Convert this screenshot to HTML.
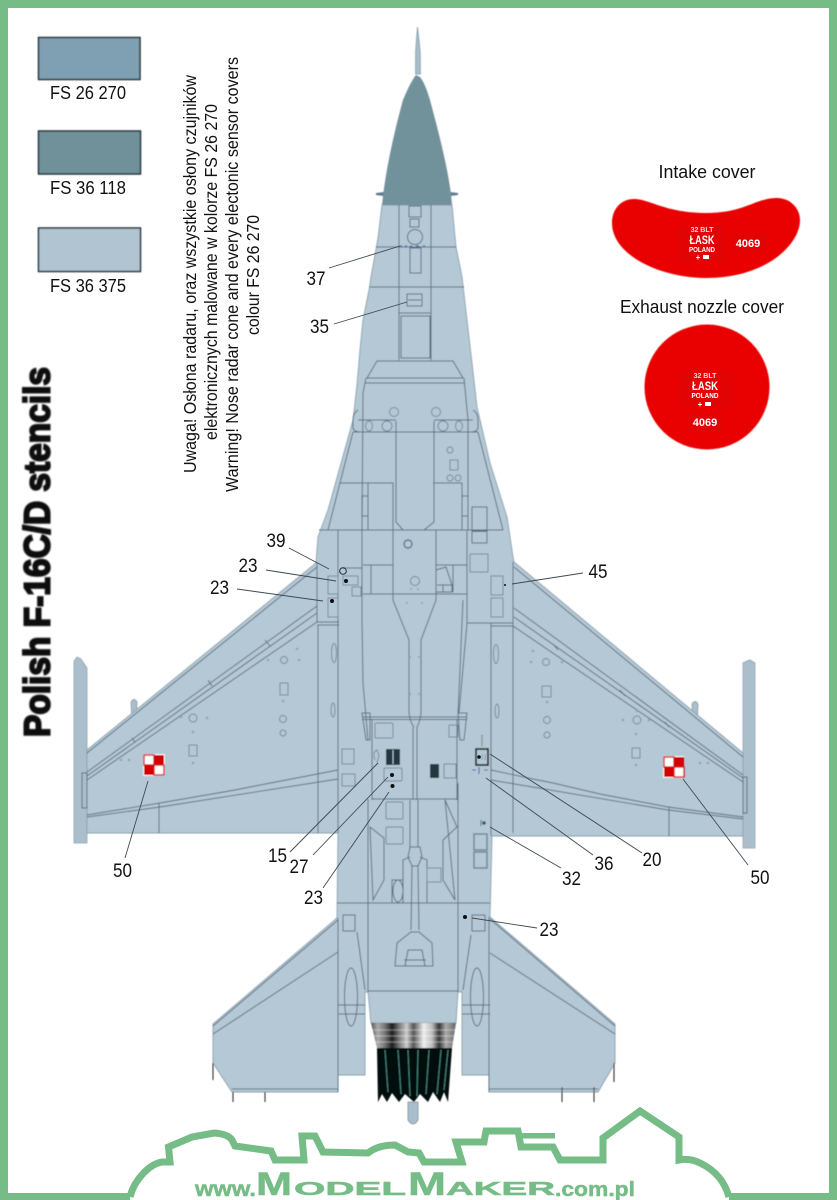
<!DOCTYPE html>
<html><head><meta charset="utf-8"><style>
html,body{margin:0;padding:0;background:#fff}
svg{display:block}
text{font-family:"Liberation Sans",sans-serif;fill:#111}
.n{font-size:19px;text-anchor:middle}
.l{fill:none;stroke:#566c7b;stroke-width:.95}
.h{fill:none;stroke:#728997;stroke-width:.95}
.ld{fill:none;stroke:#3c4a52;stroke-width:.9}
.d{fill:#0b0f12}
.g{fill:#8ea4b2}
.w{fill:#fff;font-weight:bold;text-anchor:middle}
.s{fill:#76bc86;font-weight:bold;stroke:#76bc86;stroke-width:.5}
</style></head><body>
<svg width="837" height="1200" viewBox="0 0 837 1200" xmlns="http://www.w3.org/2000/svg">
<defs>
<linearGradient id="noz" x1="0" x2="1" y1="0" y2="0">
<stop offset="0" stop-color="#555"/><stop offset=".08" stop-color="#aaa"/><stop offset=".16" stop-color="#777"/><stop offset=".25" stop-color="#1d1d1d"/><stop offset=".33" stop-color="#777"/><stop offset=".42" stop-color="#ccc"/><stop offset=".5" stop-color="#555"/><stop offset=".62" stop-color="#eee"/><stop offset=".72" stop-color="#bbb"/><stop offset=".8" stop-color="#333"/><stop offset=".88" stop-color="#aaa"/><stop offset="1" stop-color="#666"/>
</linearGradient>
<filter id="b" x="-5%" y="-5%" width="110%" height="110%"><feGaussianBlur stdDeviation="0.45"/></filter>
<filter id="tb" x="-5%" y="-5%" width="110%" height="110%"><feGaussianBlur stdDeviation="0.8"/></filter>
</defs>
<rect width="837" height="1200" fill="#fff"/>

<!-- swatches -->
<g filter="url(#b)">
<rect x="38.5" y="37.5" width="101.5" height="42" fill="#7f9fb2" stroke="#27343b" stroke-width="1.5"/>
<rect x="38.500" y="131" width="102" height="43" fill="#70909a" stroke="#27343b" stroke-width="1.5"/>
<rect x="38.500" y="228" width="102" height="43.500" fill="#b0c4d2" stroke="#27343b" stroke-width="1.5"/>
</g>
<text x="50" y="99" font-size="18.500" textLength="76" lengthAdjust="spacingAndGlyphs">FS 26 270</text>
<text x="50" y="194" font-size="18.500" textLength="76" lengthAdjust="spacingAndGlyphs">FS 36 118</text>
<text x="50" y="292" font-size="18.500" textLength="76" lengthAdjust="spacingAndGlyphs">FS 36 375</text>

<!-- rotated notes -->
<g font-size="17.500">
<text transform="translate(196,473) rotate(-90)" textLength="398" lengthAdjust="spacingAndGlyphs">Uwaga! Osłona radaru, oraz wszystkie osłony czujników</text>
<text transform="translate(217,440) rotate(-90)" textLength="336" lengthAdjust="spacingAndGlyphs">elektronicznych malowane w kolorze FS 26 270</text>
<text transform="translate(238,492) rotate(-90)" textLength="435" lengthAdjust="spacingAndGlyphs">Warning! Nose radar cone and every electonic sensor covers</text>
<text transform="translate(259,335) rotate(-90)" textLength="120" lengthAdjust="spacingAndGlyphs">colour FS 26 270</text>
</g>
<text transform="translate(49.500,737) rotate(-90)" font-size="36" font-weight="bold" textLength="370" lengthAdjust="spacingAndGlyphs" style="fill:#111;stroke:#111;stroke-width:2" filter="url(#tb)">Polish F-16C/D stencils</text>

<!-- aircraft -->
<g filter="url(#b)">
<path d="M417.500,27 L416.400,40 L415.600,52 L415.500,74 L420.500,74 L420.200,52 L419,40Z" fill="#a9bdca" stroke="#7d93a1" stroke-width=".7"/>
<path d="M376,193 L384,192 L384,196 L376,195Z M458,193 L450,192 L450,196 L458,195Z" fill="#5f7d88"/>
<!-- wingtip rails -->
<path d="M74,661 L77,657 L81,659 L87,668 L87,843 L74,843Z" fill="#aabecb" stroke="#8ea4b2" stroke-width=".8"/>
<path d="M743,663 L747,661 L750,660 L755,663 L755,848 L743,848Z" fill="#aabecb" stroke="#8ea4b2" stroke-width=".8"/>
<path d="M131,702 Q134,697 137,702 L136,725 L134,735 L132,725Z" fill="#aabecb" stroke="#7d93a1" stroke-width=".7"/>
<path d="M692,704 Q695,699 698,704 L697,728 L695,738 L693,728Z" fill="#aabecb" stroke="#7d93a1" stroke-width=".7"/>

<path d="M382,205 L378,238 L375,255 L371,277 L369,290 L363,320 L360,350 L357,385 L353,420 L340,467 L328,510 L318,537 L316,563 L87,750 L87,833 L338,833 L337,918 L213,1024 L213,1063 L232,1092 L338,1092 L338,1075 L365,1075 L365,992 L368,992 L371,1023 L456,1023 L458,992 L462,992 L462,1075 L489,1075 L489,1092 L598,1092 L615,1063 L615,1024 L490,917 L492,836 L743,836 L743,753 L514,562 L513,557 L507,517 L490,463 L477,407 L472,363 L465,303 L462,277 L456,247 L455,237 L452,205Z" fill="#b5c8d5" stroke="#8aa0ae" stroke-width=".9"/>
<path d="M382,205 C385,175 392,140 403,100 C408,88 412,80 416,75 L420,77 C424,82 427,90 430,100 C438,130 450,175 452,205Z" fill="#71919b"/>

<!-- forward fuselage -->
<g class="l">
<path d="M399,205V360 M431,205V360 M376,247H456 M370,287H464 M399,313H431"/>
<rect x="409" y="206" width="12" height="11"/><rect x="410" y="219" width="9" height="8"/>
<circle cx="415" cy="237" r="7.500"/><rect x="410" y="248" width="11" height="25"/>
<rect x="407" y="294" width="15" height="12"/><path d="M408,300H421"/>
<rect x="401" y="316" width="29" height="42"/>
<path d="M367,378 L377,361 H453 L463,378 Z M365,383 H465 M366,378 L363,393 L362,530 M464,378 L468,420 V530"/>
<path d="M358,420 H396 M434,420 H473 M353,432 H478 M353,432 L328,530 M478,432 L503,530"/>
<path d="M358,410 Q353,413 353,420 V428 Q354,432 360,432 M473,410 Q478,413 478,420 V428 Q477,432 471,432"/>
<path d="M396,421 V522 L403,530 M434,421 V522 L424,530"/>
<path d="M340,483 H393 V530 M433,483 H462 V530 M368,483 V530"/>
<rect x="362" y="496" width="6" height="20"/><rect x="462" y="496" width="6" height="20"/>
<path d="M319,530 H503"/>
<rect x="472" y="507" width="15" height="36"/><path d="M472,531H487" stroke-width="1.6"/>
<rect x="470" y="554" width="18" height="18" class="h"/>
<rect x="491" y="576" width="12" height="19" class="h"/><rect x="491" y="598" width="12" height="19" class="h"/>
<path d="M338,530 V622 M362,530 V620 L363,683 L368,740 M343,568 H362"/>
<path d="M393,530 V600 L409,640 V713 Q410,722 414,727 M436,530 V600 L421,640 V713 Q420,722 417,727"/>
<path d="M363,565 H393 M371,565 V594 M363,594 H393 M436,565 H467 M453,565 V592 M364,594 H467"/>
<path d="M436,570 L446,567 L452,585 V592 H436 Z M437,585 H452 M443,585 V592"/>
<path d="M467,530 V623 L459,713 M463,600 L458,715"/>
<path d="M317,563 V622 M317,622 H339 M317,625 H339 M318,625 L318,833 M338,622 V833 M491,623 V836 M513,562 V833 M467,623 H513 M491,626 H513"/>
</g>
<g class="h">
<rect x="328" y="576" width="10" height="18"/><rect x="328" y="598" width="10" height="19"/>
<rect x="343" y="576" width="15" height="9"/><rect x="352" y="587" width="9" height="9"/>
<circle cx="394" cy="412" r="4.500"/><circle cx="436" cy="412" r="4.500"/>
<circle cx="387" cy="426" r="5"/><circle cx="443" cy="426" r="5"/>
<ellipse cx="369" cy="426" rx="3.500" ry="5"/><ellipse cx="459" cy="426" rx="3.500" ry="5"/>
<circle cx="450" cy="450" r="3"/><rect x="450" y="460" width="8" height="10"/>
<circle cx="450" cy="478" r="3"/><circle cx="458" cy="478" r="3"/>
<circle cx="415" cy="581" r="4.500"/>
</g>
<circle cx="408" cy="544" r="4" fill="none" stroke="#5f7686" stroke-width="1.400"/>

<!-- mid fuselage -->
<g class="l">
<path d="M362,717 H467 M362,719.500 H467 M362,713 H370 L370,740 L366,740 Z M458,713 H467 L464,740 L460,740 Z"/>
<path d="M372,719 V800 M457,719 V800 M372,799 H457 M413,727 V800 M417,727 V800 M410,800 V847 M418,800 V847"/>
<path d="M368,799 V992 M458,783 V992 M337,903 H490"/>
<path d="M370,827 L384,838 V880 L373,900 L370,827 Z M445,800 L457,827 L443,840 V880 L455,900 Z"/>
<path d="M403,903 V860 L410,857 M427,903 V860 L420,857 M410,847 L408,857 L412,866 H418 L422,857 L420,847 Z"/>
<ellipse cx="398" cy="891" rx="5" ry="11"/><rect x="392" y="880" width="11" height="23"/>
<path d="M412,866 L411,930 M418,866 L419,930"/>
<path d="M395,966 L397,943 L411,932 H419 L432,943 L433,966 Z M405,966 L408,950 H422 L425,966 M404,960 H426"/>
<path d="M368,991 H458"/>
<path d="M357,932 L365,990 M471,935 L463,990 M338,1005 H365 M338,1014 H365 M462,1005 H490 M462,1014 H490 M338,918 V1092 M489,917 V1092"/>
<ellipse cx="351" cy="997" rx="6.500" ry="29"/><ellipse cx="477" cy="997" rx="6.500" ry="29"/>
<path d="M338,952 L213,1034 M490,953 L615,1034 M232,1089 H338 M489,1089 H598 M338,920 L213,1026 M490,919 L615,1026"/>
<rect x="343" y="915" width="12" height="16"/><rect x="472" y="915" width="13" height="16"/>
</g>
<g class="h">
<rect x="375" y="723" width="18" height="15" rx="1.500"/><rect x="384" y="768" width="18" height="13" rx="1.500"/>
<rect x="444" y="764" width="12" height="14"/><rect x="449" y="725" width="9" height="12"/>
<rect x="342" y="749" width="12" height="15"/><rect x="342" y="774" width="13" height="12"/>
<rect x="386" y="802" width="17" height="17" rx="1.500"/><rect x="386" y="827" width="17" height="17" rx="1.500"/>
<rect x="427" y="868" width="14" height="14"/>
<rect x="474" y="834" width="13" height="16" stroke-width="1.500"/><rect x="474" y="852" width="13" height="16" stroke-width="1.500"/>
<ellipse cx="334" cy="653" rx="2.500" ry="9.500"/><ellipse cx="333" cy="710" rx="2" ry="7"/>
<ellipse cx="496" cy="654" rx="2.500" ry="9.500"/><ellipse cx="497" cy="711" rx="2" ry="7"/>
<path d="M375,760 Q372,752 377,750 L379,755 L377,763"/>
</g>
<rect x="386" y="749" width="14" height="16" fill="#23383f"/><path d="M393,750V764" stroke="#b5c8d5" stroke-width="1"/>
<rect x="430" y="764" width="9" height="14" fill="#23383f"/>
<rect x="476" y="749" width="12" height="16" fill="none" stroke="#0b1216" stroke-width="1.600"/>
<path d="M482,735V746" stroke="#566" stroke-width="1.600" stroke-dasharray="1 1"/>
<path d="M482,754V760 M485,754V760" stroke="#7d93a1" stroke-width=".8"/>
<path d="M472,770h4 M484,770h4 M479,767v7" stroke="#3f6fb0" stroke-width="1.100"/>
<circle cx="484" cy="823" r="1.800" fill="#355"/><path d="M481,820v6" stroke="#355" stroke-width=".8"/>
<path d="M400,246h2 M405,246h2 M410,246h2 M416,246h3 M423,246h2" stroke="#3f6fb0" stroke-width="1.300"/>

<!-- wings lines -->
<g class="l">
<path d="M317,567 L87,753 M317,606 L87,772 M317,613 L87,776 M317,622 L87,780"/>
<path d="M87,815 L160,803 L235,790 L250,787 L338,770 M87,817 L160,807 L338,779 M159,803 V833"/>
<path d="M82,773 H87 V808 H82 Z"/>
<path d="M514,567 L743,757 M514,608 L743,775 M514,617 L743,778 M513,626 L743,782"/>
<path d="M491,770 L533,779 L553,783 L600,794 L668,807 L743,817 M491,780 L668,810 L743,819 M669,807 V836"/>
<path d="M743,777 H747 V813 H743 Z"/>
<path d="M265,640 L270,646 M208,680 L212,686 M132,738 L135,742 M553,644 L558,650 M620,690 L625,696 M665,722 L669,727"/>
</g>
<g class="h">
<circle cx="284" cy="660" r="3.500"/><circle cx="193" cy="718" r="4"/><circle cx="283" cy="719" r="3.500"/><circle cx="283" cy="733" r="3"/>
<rect x="280" y="683" width="8" height="12"/><rect x="189" y="745" width="8" height="11"/>
<circle cx="546" cy="662" r="3.500"/><circle cx="547" cy="720" r="3.500"/><circle cx="547" cy="735" r="3"/><circle cx="637" cy="720" r="4"/>
<rect x="542" y="686" width="9" height="11"/><rect x="632" y="748" width="8" height="10"/>
</g>
<g class="g">
<circle cx="297" cy="649" r="1.300"/><circle cx="268" cy="660" r="1.300"/><circle cx="299" cy="660" r="1.300"/><circle cx="283" cy="701" r="1.300"/><circle cx="181" cy="717" r="1.300"/><circle cx="207" cy="718" r="1.300"/><circle cx="193" cy="732" r="1.300"/><circle cx="193" cy="763" r="1.300"/><circle cx="121" cy="760" r="1.300"/><circle cx="129" cy="760" r="1.300"/>
<circle cx="533" cy="651" r="1.300"/><circle cx="531" cy="662" r="1.300"/><circle cx="562" cy="662" r="1.300"/><circle cx="547" cy="702" r="1.300"/><circle cx="623" cy="720" r="1.300"/><circle cx="637" cy="711" r="1.300"/><circle cx="649" cy="720" r="1.300"/><circle cx="636" cy="734" r="1.300"/><circle cx="636" cy="765" r="1.300"/><circle cx="700" cy="763" r="1.300"/><circle cx="708" cy="763" r="1.300"/>
<circle cx="411" cy="589" r="1"/><circle cx="418" cy="589" r="1"/><circle cx="407" cy="603" r="1"/><circle cx="422" cy="603" r="1"/><circle cx="410" cy="657" r="1"/><circle cx="419" cy="657" r="1"/><circle cx="410" cy="694" r="1"/><circle cx="419" cy="694" r="1"/>
</g>
<!-- tail ticks -->
<path d="M213,1063 V1080 M233,1092 V1102 M265,1092 V1102 M614,1063 V1082 M562,1087 V1102 M594,1087 V1102" stroke="#1a2328" stroke-width="1" fill="none"/>
<!-- nozzle -->
<path d="M371,1023 H456 L452,1048 H377 Z" fill="url(#noz)"/>
<path d="M372,1030H455 M373,1036H454 M375,1042H453" stroke="#fff" stroke-opacity=".3" stroke-width="1.600"/>
<path d="M377,1048 H452 L448,1102 L444,1092 L440,1102 L433,1092 L428,1102 L420,1094 L414,1102 L405,1094 L399,1102 L392,1093 L387,1102 L382,1094 L378,1102 Z" fill="#050807"/>
<path d="M385,1050 L388,1092 M398,1050 L401,1094 M408,1050 L410,1096 M418,1050 L417,1096 M429,1050 L426,1094 M441,1050 L437,1094 M448,1050 L444,1090" stroke="#4b8a82" stroke-width="1" fill="none"/>
<path d="M408,1102 H418 L418,1120 Q413,1128 408,1120 Z" fill="#a9bdca" stroke="#7d93a1" stroke-width=".8"/>
</g>

<!-- roundels -->
<g filter="url(#b)">
<rect x="143" y="754" width="22" height="22" fill="#fff"/>
<rect x="144" y="755" width="10" height="10" fill="#fff" stroke="#d2141a" stroke-width="1.400"/><rect x="154" y="755" width="10" height="10" fill="#d40000"/>
<rect x="144" y="765" width="10" height="10" fill="#d40000"/><rect x="154" y="765" width="10" height="10" fill="#fff" stroke="#d2141a" stroke-width="1.400"/>
<rect x="663" y="756" width="21" height="22" fill="#fff"/>
<rect x="664" y="757" width="10" height="10" fill="#fff" stroke="#d2141a" stroke-width="1.400"/><rect x="674" y="757" width="10" height="10" fill="#d40000"/>
<rect x="664" y="767" width="10" height="10" fill="#d40000"/><rect x="674" y="767" width="10" height="10" fill="#fff" stroke="#d2141a" stroke-width="1.400"/>
</g>

<!-- leaders -->
<g class="ld">
<path d="M329,268 L400,246 M334,324 L407,302 M289,548 L329,569 M266,570 L336,581 M237,589 L323,601"/>
<path d="M125,858 L148,781 M290,852 L378,763 M313,855 L388,777 M323,888 L389,792"/>
<path d="M583,573 L512,584 M642,853 L490,754 M593,855 L486,778 M561,868 L490,827 M748,865 L683,779 M537,928 L472,918"/>
</g>
<circle class="d" cx="346" cy="581" r="2"/><circle class="d" cx="332" cy="601" r="2"/>
<circle class="d" cx="392" cy="775" r="2"/><circle class="d" cx="392.500" cy="786" r="2"/>
<circle class="d" cx="465" cy="917" r="2"/><circle class="d" cx="479" cy="757" r="1.800"/><circle class="d" cx="505" cy="585" r="1"/>
<circle cx="343" cy="571" r="3.300" fill="none" stroke="#1c2a30" stroke-width="1"/>

<!-- numbers -->
<g lengthAdjust="spacingAndGlyphs">
<text class="n" x="316" y="285" textLength="19" lengthAdjust="spacingAndGlyphs">37</text><text class="n" x="319.500" y="333" textLength="19" lengthAdjust="spacingAndGlyphs">35</text>
<text class="n" x="276" y="547" textLength="19" lengthAdjust="spacingAndGlyphs">39</text><text class="n" x="248" y="572" textLength="19" lengthAdjust="spacingAndGlyphs">23</text><text class="n" x="219.500" y="594" textLength="19" lengthAdjust="spacingAndGlyphs">23</text>
<text class="n" x="598" y="578" textLength="19" lengthAdjust="spacingAndGlyphs">45</text><text class="n" x="277.500" y="862" textLength="19" lengthAdjust="spacingAndGlyphs">15</text><text class="n" x="299" y="873" textLength="19" lengthAdjust="spacingAndGlyphs">27</text>
<text class="n" x="313.500" y="904" textLength="19" lengthAdjust="spacingAndGlyphs">23</text><text class="n" x="122.500" y="877" textLength="19" lengthAdjust="spacingAndGlyphs">50</text><text class="n" x="760" y="884" textLength="19" lengthAdjust="spacingAndGlyphs">50</text>
<text class="n" x="652" y="866" textLength="19" lengthAdjust="spacingAndGlyphs">20</text><text class="n" x="604" y="870" textLength="19" lengthAdjust="spacingAndGlyphs">36</text><text class="n" x="571.500" y="885" textLength="19" lengthAdjust="spacingAndGlyphs">32</text><text class="n" x="549" y="936" textLength="19" lengthAdjust="spacingAndGlyphs">23</text>
</g>

<!-- covers -->
<text x="707" y="178" font-size="18" text-anchor="middle" textLength="97" lengthAdjust="spacingAndGlyphs">Intake cover</text>
<path d="M612,223 C612,208 622,199 634,199 C650,199 665,213 707,213 C745,213 755,198 777,198 C790,198 800,208 800,220 C800,245 765,278 707,278 C660,278 612,255 612,223Z" fill="#e90000" filter="url(#b)"/>
<rect x="677" y="226" width="49" height="36" fill="#e20404"/><rect x="732" y="233" width="35" height="19" fill="#e20404"/>
<text class="w" x="702" y="232" font-size="7" style="fill:#f8d8d8">32 BLT</text>
<text class="w" x="702" y="244" font-size="11.500" style="fill:#fff" textLength="25" lengthAdjust="spacingAndGlyphs">ŁASK</text>
<text class="w" x="702" y="252" font-size="7.500" style="fill:#fff" textLength="26" lengthAdjust="spacingAndGlyphs">POLAND</text>
<text class="w" x="698" y="260" font-size="8" style="fill:#fff">+</text><rect x="703" y="255" width="6" height="4" fill="#fff"/>
<text class="w" x="748" y="247" font-size="11" style="fill:#fff">4069</text>

<text x="702" y="313" font-size="18" text-anchor="middle" textLength="164" lengthAdjust="spacingAndGlyphs">Exhaust nozzle cover</text>
<circle cx="707" cy="387" r="62.500" fill="#e90000" filter="url(#b)"/>
<rect x="678" y="372" width="54" height="36" fill="#e20404"/><rect x="688" y="413" width="34" height="19" fill="#e20404"/>
<text class="w" x="705" y="378" font-size="7" style="fill:#f8d8d8">32 BLT</text>
<text class="w" x="705" y="390" font-size="11.500" style="fill:#fff" textLength="26" lengthAdjust="spacingAndGlyphs">ŁASK</text>
<text class="w" x="705" y="398" font-size="7.500" style="fill:#fff" textLength="27" lengthAdjust="spacingAndGlyphs">POLAND</text>
<text class="w" x="700" y="407" font-size="8" style="fill:#fff">+</text><rect x="705" y="402" width="6" height="4" fill="#fff"/>
<text class="w" x="705" y="426" font-size="11" style="fill:#fff">4069</text>

<!-- border + skyline -->
<rect x="0" y="0" width="837" height="8" fill="#76bc86"/>
<rect x="0" y="0" width="8" height="1200" fill="#76bc86"/>
<rect x="829" y="0" width="8" height="1200" fill="#76bc86"/>
<rect x="0" y="1193" width="130" height="7" fill="#76bc86"/>
<rect x="729" y="1193" width="108" height="7" fill="#76bc86"/>
<path d="M130,1197 C134,1180 150,1163 163,1162 L170,1162 L168.500,1147 L192,1137 L214,1133 Q228,1134 232,1140 L235,1146 L271,1151 L275,1160 L304,1160 L302,1136 L315,1136 L323,1152 L368,1153 Q378,1145 395,1145 L408,1152 L419,1153 L424,1162 L462,1162 L456,1142 L484,1142 L486,1131 L518,1131 L521,1147 L553,1147 L560,1160 L603,1160 L603,1138 L640,1111 L679,1137 L679,1160 Q690,1158 700,1163 C715,1170 725,1182 729,1197" fill="none" stroke="#76bc86" stroke-width="7" stroke-linejoin="miter"/>
<rect x="520" y="1133" width="35" height="5.500" fill="#76bc86"/>
<text class="s" x="195" y="1196" font-size="21" textLength="61" lengthAdjust="spacingAndGlyphs">www.</text>
<text class="s" x="256" y="1195" font-size="32" textLength="36" lengthAdjust="spacingAndGlyphs">M</text>
<text class="s" x="294" y="1195" font-size="18" textLength="112" lengthAdjust="spacingAndGlyphs">ODEL</text>
<text class="s" x="408" y="1195" font-size="32" textLength="38" lengthAdjust="spacingAndGlyphs">M</text>
<text class="s" x="446" y="1195" font-size="18" textLength="109" lengthAdjust="spacingAndGlyphs">AKER</text>
<text class="s" x="555" y="1196" font-size="20" textLength="80" lengthAdjust="spacingAndGlyphs">.com.pl</text>
</svg>
</body></html>
